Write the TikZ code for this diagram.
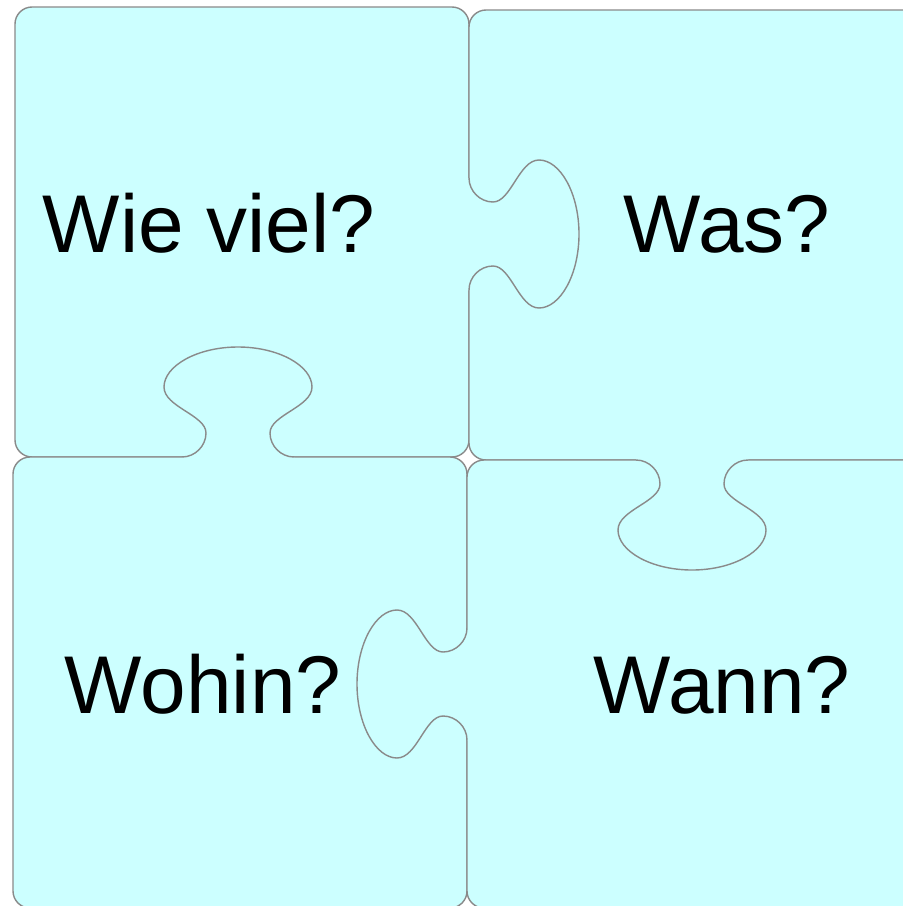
\documentclass[tikz,border=0pt]{standalone}
\usepackage{fontspec}
\setmainfont{Liberation Sans}
\definecolor{piecefill}{HTML}{CCFFFF}
\definecolor{piecedraw}{HTML}{8A8A8A}
\tikzset{
  piece/.style={fill=piecefill, draw=piecedraw, line width=0.4pt, rounded corners=0.17cm},
  knobline/.style={draw=piecedraw, line width=0.4pt, line join=round},
  lbl/.style={anchor=base, inner sep=0pt, font=\fontsize{23.3}{28}\selectfont},
}
% 凸部 (中心, 向き)
\newcommand{\knob}[2]{%
  \begin{scope}[shift={#1}, rotate=#2]
    \fill[piecefill] (-56,0) .. controls (-43,0) and (-32,11) .. (-32,24)
      .. controls (-32,42) and (-74,50) .. (-74,70)
      .. controls (-74,91) and (-41,110) .. (0,110)
      .. controls (41,110) and (74,91) .. (74,70)
      .. controls (74,50) and (32,42) .. (32,24)
      .. controls (32,11) and (43,0) .. (56,0) -- (56,-3) -- (-56,-3) -- cycle;
    \draw[knobline] (-56,0) .. controls (-43,0) and (-32,11) .. (-32,24)
      .. controls (-32,42) and (-74,50) .. (-74,70)
      .. controls (-74,91) and (-41,110) .. (0,110)
      .. controls (41,110) and (74,91) .. (74,70)
      .. controls (74,50) and (32,42) .. (32,24)
      .. controls (32,11) and (43,0) .. (56,0);
  \end{scope}}
\begin{document}
\begin{tikzpicture}[x=0.01cm, y=-0.01cm]
    \useasboundingbox (0,0) rectangle (903,906);
    \fill[white] (0,0) rectangle (903,906);
    \clip (0,0) rectangle (903,906);

    % ピース
    \draw[piece] (15,7) rectangle (469,457);
    \draw[piece] (469,10) rectangle (920,460);
    \draw[piece] (13,457) rectangle (467,908);
    \draw[piece] (467,460) rectangle (920,908);

    % 凸部
    \knob{(469,234)}{90}
    \knob{(238,457)}{180}
    \knob{(692,460)}{0}
    \knob{(467,684)}{-90}

    % ラベル
    \node[lbl] (wieviel) at (209,252) {Wie viel?};
    \node[lbl] (was)     at (727,252) {Was?};
    \node[lbl] (wohin)   at (203,713) {Wohin?};
    \node[lbl] (wann)    at (722,713) {Wann?};
\end{tikzpicture}
\end{document}
